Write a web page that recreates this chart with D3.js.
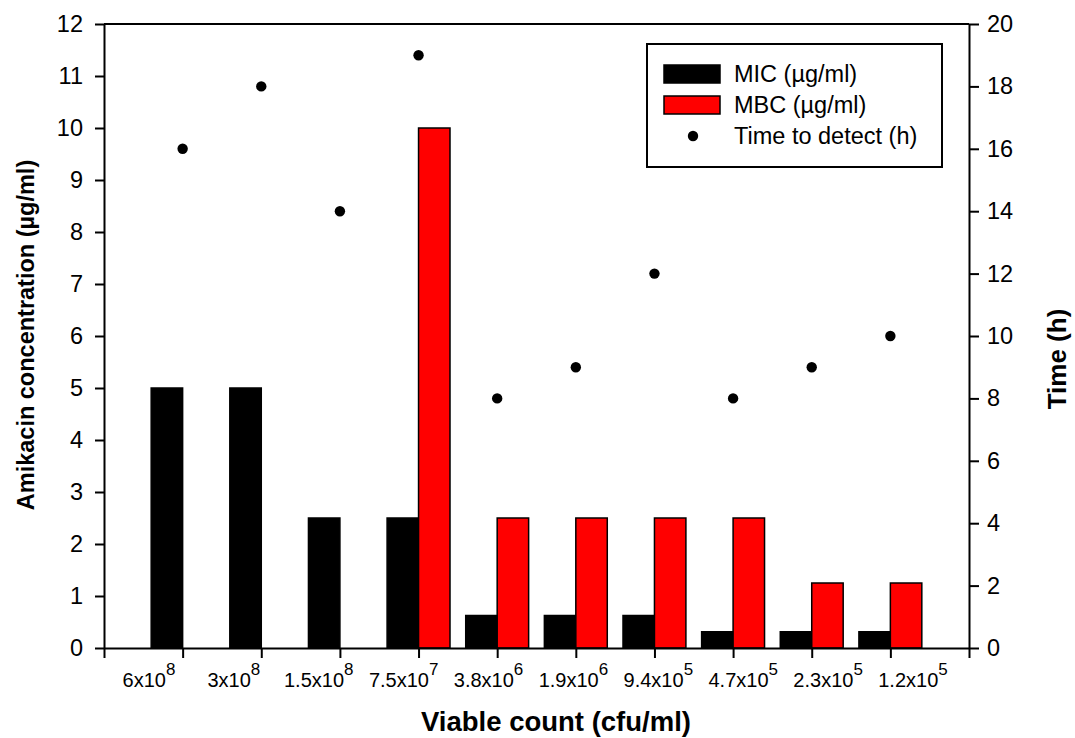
<!DOCTYPE html>
<html>
<head>
<meta charset="utf-8">
<script src="https://cdn.jsdelivr.net/npm/d3@7"></script>
<style>
  html, body { margin: 0; padding: 0; background: #fff; }
  svg { display: block; font-family: "Liberation Sans", Arial, sans-serif; }
</style>
</head>
<body>
<svg id="chart" width="1075" height="738"></svg>
<script>
// Viable count categories (mantissa x 10^exponent)
const countMantissa = ["6", "3", "1.5", "7.5", "3.8", "1.9", "9.4", "4.7", "2.3", "1.2"];
const countExponent = [8, 8, 8, 7, 6, 6, 5, 5, 5, 5];

// Amikacin concentrations (µg/ml); null = no bar
const micValues = [5, 5, 2.5, 2.5, 0.625, 0.625, 0.625, 0.3125, 0.3125, 0.3125];
const mbcValues = [null, null, null, 10, 2.5, 2.5, 2.5, 2.5, 1.25, 1.25];

// Time to detect (h)
const timeValues = [16, 18, 14, 19, 8, 9, 12, 8, 9, 10];

// Axis ticks
const leftTicks = d3.range(0, 13, 1);
const rightTicks = d3.range(0, 21, 2);

const svg = d3.select("#chart");
const plot = { left: 104, right: 969, top: 24, bottom: 648 };
const barWidth = 0.4; // in category units

// One slot per category plus half a slot of padding at each end
const x = d3.scaleLinear().domain([0, countMantissa.length + 1]).range([plot.left, plot.right]);
const yLeft = d3.scaleLinear().domain([0, 12]).range([plot.bottom, plot.top]);
const yRight = d3.scaleLinear().domain([0, 20]).range([plot.bottom, plot.top]);
// Tick-label placement along the bottom
const labelX = d3.scalePoint().domain(d3.range(countMantissa.length)).range([149, 913]);

const ink = "#000";

// Bars: MIC to the left of each tick, MBC to the right
svg.append("g").selectAll("rect")
  .data(micValues)
  .join("rect")
  .attr("x", (d, i) => x(i + 1 - barWidth))
  .attr("width", (d, i) => x(i + 1) - x(i + 1 - barWidth))
  .attr("y", d => yLeft(d))
  .attr("height", d => yLeft(0) - yLeft(d))
  .attr("fill", "#000")
  .attr("stroke", ink)
  .attr("stroke-width", 1.5);

svg.append("g").selectAll("rect")
  .data(mbcValues.map((v, i) => ({ v, i })).filter(d => d.v != null))
  .join("rect")
  .attr("x", d => x(d.i + 1))
  .attr("width", d => x(d.i + 1 + barWidth) - x(d.i + 1))
  .attr("y", d => yLeft(d.v))
  .attr("height", d => yLeft(0) - yLeft(d.v))
  .attr("fill", "#ff0000")
  .attr("stroke", ink)
  .attr("stroke-width", 1.5);

// Time-to-detect points on the right axis
svg.append("g").selectAll("circle")
  .data(timeValues)
  .join("circle")
  .attr("cx", (d, i) => x(i + 1))
  .attr("cy", d => yRight(d))
  .attr("r", 5.2)
  .attr("fill", "#000");

// Axes
function styleAxis(g) {
  g.attr("font-size", 23.5).attr("font-family", "'Liberation Sans', Arial, sans-serif");
  g.selectAll("path, line").attr("stroke", ink).attr("stroke-width", 2);
  g.selectAll("text").attr("fill", ink);
}

svg.append("g")
  .attr("transform", `translate(${plot.left},0)`)
  .call(d3.axisLeft(yLeft).tickValues(leftTicks).tickSize(9).tickSizeOuter(0).tickPadding(12))
  .call(styleAxis);

svg.append("g")
  .attr("transform", `translate(${plot.right},0)`)
  .call(d3.axisRight(yRight).tickValues(rightTicks).tickSize(10).tickSizeOuter(0).tickPadding(8))
  .call(styleAxis);

svg.append("g")
  .attr("transform", `translate(0,${plot.bottom})`)
  .call(d3.axisBottom(x).tickValues(d3.range(0, countMantissa.length + 2)).tickSize(10).tickSizeOuter(0).tickFormat(""))
  .call(styleAxis);

// Top frame line
svg.append("line")
  .attr("x1", plot.left).attr("x2", plot.right)
  .attr("y1", plot.top).attr("y2", plot.top)
  .attr("stroke", ink).attr("stroke-width", 2);

// Category labels with superscript exponents
const catLabels = svg.append("g").selectAll("text")
  .data(countMantissa)
  .join("text")
  .attr("x", (d, i) => labelX(i))
  .attr("y", plot.bottom + 39)
  .attr("text-anchor", "middle")
  .attr("font-size", 20)
  .attr("fill", ink);
catLabels.append("tspan").text(d => d + "x10");
catLabels.append("tspan")
  .attr("dy", -12)
  .attr("font-size", 17)
  .text((d, i) => countExponent[i]);

// Axis titles
svg.append("text")
  .attr("x", 556).attr("y", 731)
  .attr("text-anchor", "middle")
  .attr("font-size", 27.5).attr("font-weight", "bold")
  .text("Viable count (cfu/ml)");

svg.append("text")
  .attr("transform", "translate(34,335) rotate(-90)")
  .attr("text-anchor", "middle")
  .attr("font-size", 23.5).attr("font-weight", "bold")
  .text("Amikacin concentration (µg/ml)");

svg.append("text")
  .attr("transform", "translate(1066,359) rotate(-90)")
  .attr("text-anchor", "middle")
  .attr("font-size", 26).attr("font-weight", "bold")
  .text("Time (h)");

// Legend
const legend = svg.append("g").attr("transform", "translate(647,44)");
legend.append("rect")
  .attr("width", 295).attr("height", 123)
  .attr("fill", "#fff").attr("stroke", ink).attr("stroke-width", 2);

const legendItems = [
  { label: "MIC (µg/ml)", type: "bar", fill: "#000" },
  { label: "MBC (µg/ml)", type: "bar", fill: "#ff0000" },
  { label: "Time to detect (h)", type: "dot", fill: "#000" }
];
const item = legend.selectAll("g.item")
  .data(legendItems)
  .join("g")
  .attr("class", "item")
  .attr("transform", (d, i) => `translate(0,${30 + i * 31})`);
item.filter(d => d.type === "bar").append("rect")
  .attr("x", 17).attr("y", -9).attr("width", 56).attr("height", 18)
  .attr("fill", d => d.fill).attr("stroke", ink).attr("stroke-width", 1.5);
item.filter(d => d.type === "dot").append("circle")
  .attr("cx", 46).attr("cy", 0).attr("r", 5.2).attr("fill", d => d.fill);
item.append("text")
  .attr("x", 87).attr("y", 8)
  .attr("font-size", 23.5).attr("fill", ink)
  .text(d => d.label);
</script>
</body>
</html>
